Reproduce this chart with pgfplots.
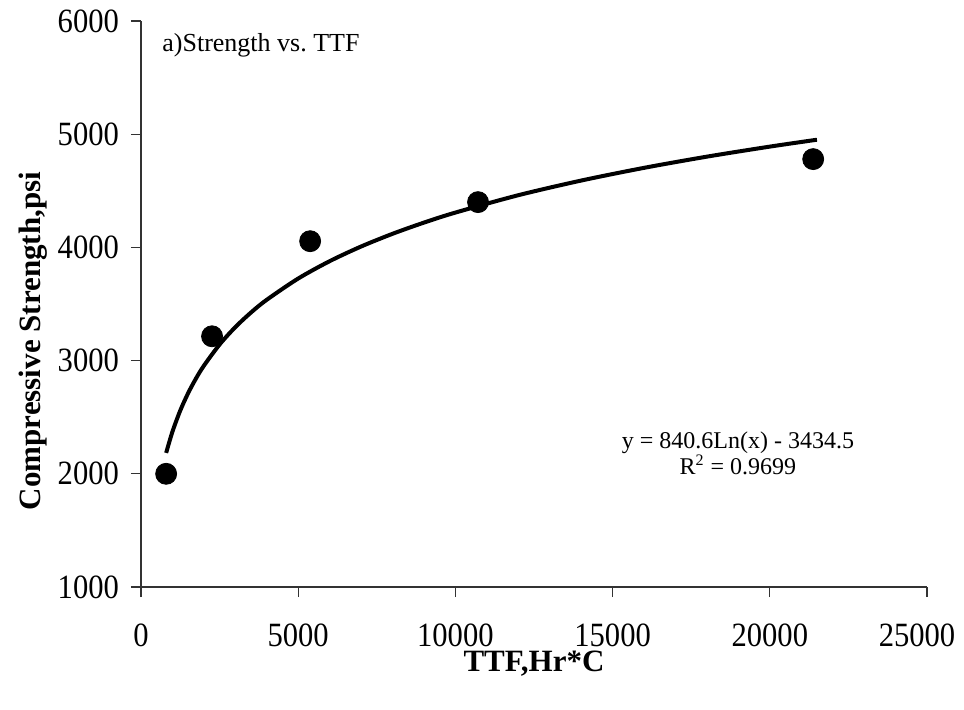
\documentclass[border=0pt]{standalone}
\usepackage{pgfplots}
\pgfplotsset{compat=1.18}
\usepackage{fontspec}
\setmainfont{Liberation Serif}
\newfontfamily\tickfont[FakeStretch=0.9]{Liberation Serif}
\begin{document}
\begin{tikzpicture}
\useasboundingbox (-70.5pt,-61pt) rectangle (411.5pt,293.5pt);
\begin{axis}[
  scale only axis, width=393pt, height=283pt,
  xmin=0, xmax=25000, ymin=1000, ymax=6000,
  xtick={0,5000,...,25000}, ytick={1000,2000,...,6000},
  xticklabels={0,5000,10000,15000,20000,\hspace*{-10pt}25000},
  axis x line=bottom, axis y line=left,
  axis line style={-, black!80, line width=0.6pt},
  tick align=outside, major tick length=5pt,
  tick style={black!80, line width=0.6pt},
  scaled ticks=false,
  /pgf/number format/assume math mode=true,
  /pgf/number format/set thousands separator={},
  ticklabel style={font=\tickfont\fontsize{17}{19}\selectfont},
  xticklabel style={yshift=-10pt},
  yticklabel style={xshift=-2.5pt},
  xlabel={\textbf{TTF,Hr*C}},
  ylabel={\textbf{Compressive Strength,psi}},
  x label style={font=\fontsize{15.5}{17}\selectfont, at={(axis description cs:0.5,0)}, anchor=center, yshift=-38.5pt},
  y label style={font=\fontsize{15.5}{17}\selectfont, at={(axis description cs:0,0.4346)}, anchor=center, yshift=54pt},
  clip=false,
]
  % fitted log trend line
  \addplot[black, line width=2pt, smooth] coordinates {
    (800,2184.6)(1000,2372.1)(1250,2559.7)(1500,2713.0)(1750,2842.6)
    (2000,2954.8)(2500,3142.4)(3000,3295.7)(3500,3425.2)(4000,3537.4)
    (5000,3725.1)(6000,3878.3)(7000,4007.9)(8000,4120.1)(9000,4219.1)
    (10000,4307.7)(12000,4461.0)(14000,4590.5)(16000,4702.8)(18000,4801.8)
    (20000,4890.4)(21500,4951.2)};
  % measured points
  \addplot[only marks, mark=*, mark size=5.25pt, black] coordinates {
    (800,2000)(2260,3215)(5380,4055)(10720,4400)(21380,4780)};
  \node[anchor=west, inner sep=0pt, font=\fontsize{13}{15}\selectfont] at (rel axis cs:0.0267,0.9576) {a)Strength vs.\ TTF};
  \node[align=center, font=\fontsize{12}{13}\selectfont] at (rel axis cs:0.7595,0.2367)
    {y = 840.6Ln(x) - 3434.5\\R\textsuperscript{2} = 0.9699};
\end{axis}
\end{tikzpicture}
\end{document}
